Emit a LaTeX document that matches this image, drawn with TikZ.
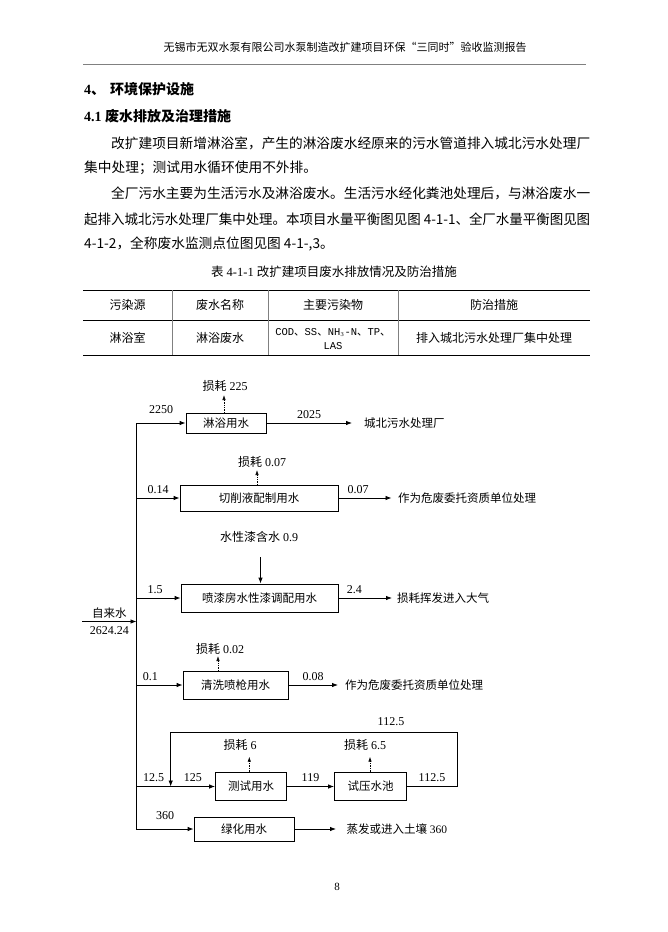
\documentclass[tikz,border=0pt]{standalone}
\usepackage{fontspec}
\usepackage{graphicx}
\setmainfont{Liberation Serif}
\newfontfamily\zhfont{Noto Sans CJK SC}
\newfontfamily\codefont{Liberation Mono}
\usetikzlibrary{positioning, arrows.meta}

\newcommand{\zhsize}[1]{\zhfont\fontsize{#1}{#1}\selectfont}
\newcommand{\codetext}[1]{{\codefont\fontsize{10.5}{14}\selectfont #1}}

\begin{document}
\begin{tikzpicture}[x=1pt, y=-1pt]
    \tikzset{
        box/.style={draw, line width=0.8pt, inner sep=0pt, font=\zhsize{11.5}},
        zh/.style={inner sep=0pt, font=\zhsize{11.5}},
        num/.style={inner sep=0pt, font=\fontsize{12}{12}\selectfont},
        flow/.style={-{Latex[length=6pt,width=4.5pt]}, line width=0.8pt},
        loss/.style={-{Latex[length=5pt,width=3.5pt]}, densely dotted, line width=0.7pt},
        textline/.style={anchor=west, inner sep=0pt}
    }

    % PAGE
    \useasboundingbox (0,0) rectangle (668,932);
    \fill[white] (0,0) rectangle (668,932);

    % HEADER
    \node[inner sep=0pt, font=\zhsize{11}] (header) at (345,47) {无锡市无双水泵有限公司水泵制造改扩建项目环保“三同时”验收监测报告};
    \draw[gray, line width=1pt] (83,64) -- (586,64);

    % HEADINGS
    \node[textline, font=\fontsize{14}{14}\selectfont\bfseries] (sec) at (84,89) {4{\zhfont 、}\hspace{5pt}{\zhfont 环境保护设施}};
    \node[textline, font=\fontsize{14}{14}\selectfont\bfseries] (subsec) at (84,116) {4.1 {\zhfont 废水排放及治理措施}};

    % TEXT
    \node[textline] (par1) at (111,143) {\resizebox{479pt}{\height}{\zhsize{13.7}改扩建项目新增淋浴室，产生的淋浴废水经原来的污水管道排入城北污水处理厂}};
    \node[textline] (par2) at (84,168) {\zhsize{13.7}集中处理；测试用水循环使用不外排。};
    \node[textline] (par3) at (111,193) {\resizebox{479pt}{\height}{\zhsize{13.7}全厂污水主要为生活污水及淋浴废水。生活污水经化粪池处理后，与淋浴废水一}};
    \node[textline] (par4) at (84,219) {\resizebox{506pt}{\height}{\zhsize{13.7}起排入城北污水处理厂集中处理。本项目水量平衡图见图 4-1-1、全厂水量平衡图见图}};
    \node[textline] (par5) at (84,244) {\zhsize{13.7}4-1-2，全称废水监测点位图见图 4-1-,3。};

    % TABLE
    \node[inner sep=0pt, font=\fontsize{12.5}{12.5}\selectfont] (caption) at (334,272) {{\zhfont 表} 4-1-1 {\zhfont 改扩建项目废水排放情况及防治措施}};
    \draw[line width=0.8pt] (83,290) -- (590,290);
    \draw[line width=0.8pt] (83,320) -- (590,320);
    \draw[line width=0.8pt] (83,355) -- (590,355);
    \foreach \colx in {172,268,398}
        \draw[gray, line width=1pt] (\colx,290) -- (\colx,355);
    \node[zh, font=\zhsize{12}] (hsource) at (127.5,305) {污染源};
    \node[zh, font=\zhsize{12}] (hname) at (220,305) {废水名称};
    \node[zh, font=\zhsize{12}] (hpoll) at (333,305) {主要污染物};
    \node[zh, font=\zhsize{12}] (hmeas) at (494,305) {防治措施};
    \node[zh, font=\zhsize{12}] (csource) at (127.5,338) {淋浴室};
    \node[zh, font=\zhsize{12}] (cname) at (220,338) {淋浴废水};
    \node[inner sep=0pt, align=center, font=\zhfont\fontsize{10.5}{14}\selectfont] (cpoll) at (333,339) {\codetext{COD}、\codetext{SS}、\codetext{NH{\footnotesize$_3$}-N}、\codetext{TP}、\\\codetext{LAS}};
    \node[zh, font=\zhsize{12}] (cmeas) at (494,338) {排入城北污水处理厂集中处理};

    % SUPPLY POINTS
    \coordinate (m1) at (136.5,423);
    \coordinate (m2) at (136.5,498);
    \coordinate (m3) at (136.5,598);
    \coordinate (m4) at (136.5,685);
    \coordinate (m5) at (136.5,786.5);
    \coordinate (m6) at (136.5,829);
    \coordinate (tapin) at (82,621.5);
    \coordinate (tapout) at (136.5,621.5);
    \coordinate (jn) at (170.7,786.5);
    \coordinate (loopr) at (457.3,732.3);

    % BOXES
    \node[box, minimum width=80pt, minimum height=20pt] (shower) at (226,423) {淋浴用水};
    \node[box, minimum width=158pt, minimum height=26pt] (cutfluid) at (259,498) {切削液配制用水};
    \node[box, minimum width=157pt, minimum height=28pt] (paintmix) at (259.5,598) {喷漆房水性漆调配用水};
    \node[box, minimum width=105pt, minimum height=28pt] (gunclean) at (235.5,685) {清洗喷枪用水};
    \node[box, minimum width=71pt, minimum height=28pt] (testing) at (251,786.5) {测试用水};
    \node[box, minimum width=72pt, minimum height=28pt] (pool) at (370.5,786.5) {试压水池};
    \node[box, minimum width=100pt, minimum height=24pt] (green) at (244,829) {绿化用水};

    % OUTLETS
    \coordinate (e1) at (352,423);
    \coordinate (e2) at (391.5,498);
    \coordinate (e3) at (392,598);
    \coordinate (e4) at (338,685);
    \coordinate (e7) at (336,829);
    \node[zh, anchor=west] (sewage) at (364,423) {城北污水处理厂};
    \node[zh, anchor=west] (hazard1) at (398,498) {作为危废委托资质单位处理};
    \node[zh, anchor=west] (air) at (397,598) {损耗挥发进入大气};
    \node[zh, anchor=west] (hazard2) at (345,685) {作为危废委托资质单位处理};
    \node[zh, anchor=west] (soil) at (346.5,829) {蒸发或进入土壤 {\rmfamily 360}};

    % INPUTS
    \node[num] (paintin) at (259,537) {{\zhfont 水性漆含水} 0.9};
    \coordinate (p0) at (260.5,557);
    \draw[flow] (p0) -- (p0 |- paintmix.north);
    \draw[flow] (tapin) -- (tapout)
        node[midway, above=2.5pt, zh] (taplabel) {自来水}
        node[midway, below=5pt, num] (tapvalue) {2624.24};

    % FLOWS
    \draw[flow] (m5) -- (m1) -- (shower) node[midway, above=9pt, num] {2250};
    \draw[flow] (m5) -- (m6) -- (green) node[midway, above=9pt, num] {360};
    \path[flow]
        (m2) edge node[above=4pt, num] {0.14} (cutfluid)
        (m3) edge node[above=4pt, num, pos=0.42] {1.5} (paintmix)
        (m4) edge node[above=4pt, num, pos=0.3] {0.1} (gunclean)
        (shower) edge node[above=4pt, num] {2025} (e1)
        (cutfluid) edge node[above=4pt, num, pos=0.37] {0.07} (e2)
        (paintmix) edge node[above=4pt, num, pos=0.3] {2.4} (e3)
        (gunclean) edge node[above=4pt, num] {0.08} (e4)
        (testing) edge node[above=4pt, num] {119} (pool)
        (green) edge (e7)
        (jn) edge node[above=4pt, num] {125} (testing);
    \draw[line width=0.8pt] (m5) -- (jn) node[midway, above=4pt, num] {12.5};
    \draw[flow] (pool.east) -| (loopr) -| (jn);
    \node[num] (loopa) at (432,778) {112.5};
    \node[num] (loopb) at (391,722) {112.5};

    % LOSSES
    \coordinate (l1) at (224,395);
    \coordinate (l2) at (257,470);
    \coordinate (l3) at (218,656);
    \coordinate (l4) at (249.3,756.7);
    \coordinate (l5) at (370,756.7);
    \draw[loss] (l1 |- shower.north) -- (l1);
    \draw[loss] (l2 |- cutfluid.north) -- (l2);
    \draw[loss] (l3 |- gunclean.north) -- (l3);
    \draw[loss] (l4 |- testing.north) -- (l4);
    \draw[loss] (l5 |- pool.north) -- (l5);
    \node[num] (loss1) at (225,386) {{\zhfont 损耗} 225};
    \node[num] (loss2) at (262,462) {{\zhfont 损耗} 0.07};
    \node[num] (loss3) at (220,649) {{\zhfont 损耗} 0.02};
    \node[num] (loss4) at (240,745) {{\zhfont 损耗} 6};
    \node[num] (loss5) at (365,745) {{\zhfont 损耗} 6.5};

    % PAGE NUMBER
    \node[num, font=\fontsize{11}{11}\selectfont] (pageno) at (337,887) {8};

\end{tikzpicture}
\end{document}
